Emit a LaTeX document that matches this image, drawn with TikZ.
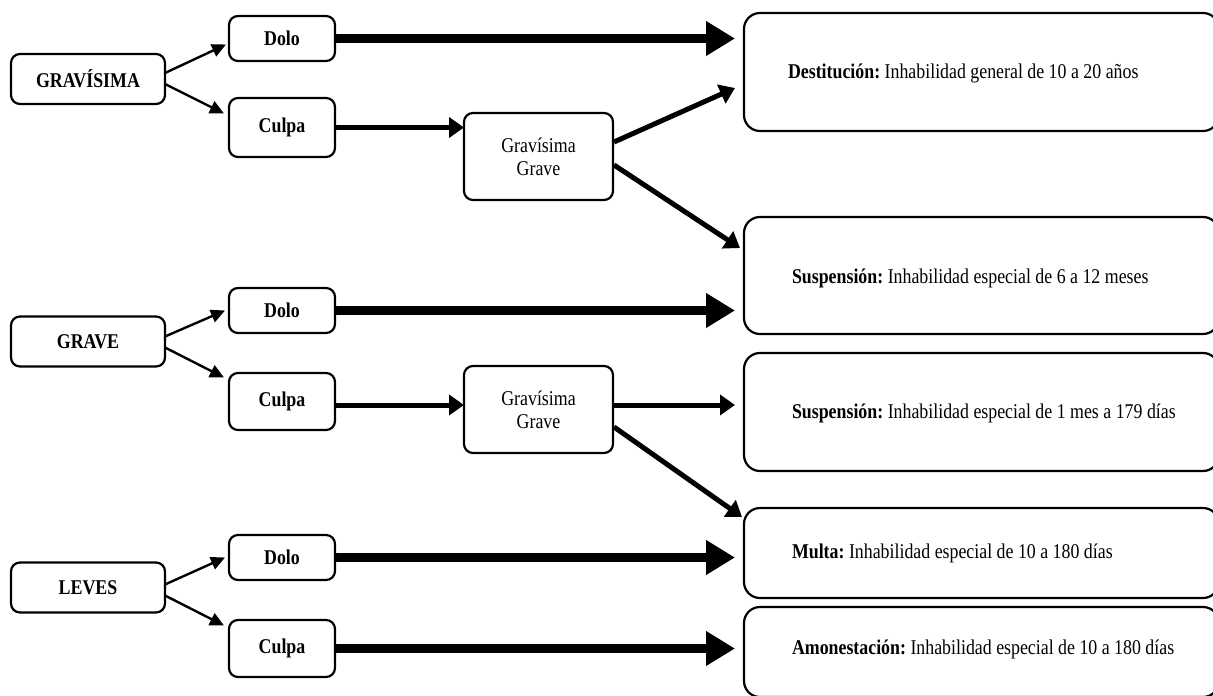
\documentclass[tikz,border=0pt]{standalone}
\usepackage{fontspec}
\setmainfont{Liberation Serif}[FakeStretch=0.85]
\usetikzlibrary{arrows.meta,calc}
\frenchspacing
\begin{document}
\begin{tikzpicture}[x=1pt,y=-1pt,
  every node/.style={inner sep=0pt, outer sep=0pt},
  box/.style={draw, line width=2.2pt, rounded corners=9pt, align=center, font=\fontsize{21}{23}\selectfont},
  catbox/.style={box, minimum width=154pt, minimum height=50pt, font=\fontsize{21}{23}\selectfont\bfseries},
  modbox/.style={box, minimum width=106pt, font=\fontsize{21}{23}\selectfont\bfseries},
  ggbox/.style={box, minimum width=149pt, minimum height=87pt},
  resbox/.style={draw, line width=2.2pt, rounded corners=16pt, minimum width=475pt},
  restext/.style={anchor=west, font=\fontsize{21}{23}\selectfont},
  thin/.style={line width=2.4pt, -{Triangle[length=14pt,width=13pt]}},
  mid/.style={line width=5pt, -{Triangle[length=15pt,width=20pt]}},
  thick/.style={line width=9pt, -{Triangle[length=29pt,width=33pt]}},
]
\useasboundingbox (0,0) rectangle (1213,696);

% categories
\node[catbox] (gravisima) at (88,79) {GRAVÍSIMA};
\node[catbox] (grave) at (88,341.5) {GRAVE};
\node[catbox] (leves) at (88,587.5) {LEVES};

% dolo / culpa
\node[modbox, minimum height=45pt] (dolo1) at (282,38.5) {Dolo};
\node[modbox, minimum height=59pt] (culpa1) at (282,127.5) {Culpa};
\node[modbox, minimum height=45pt] (dolo2) at (282,310.5) {Dolo};
\node[modbox, minimum height=57pt] (culpa2) at (282,401.5) {Culpa};
\node[modbox, minimum height=45pt] (dolo3) at (282,557.5) {Dolo};
\node[modbox, minimum height=57pt] (culpa3) at (282,648.5) {Culpa};

% gravisima / grave
\node[ggbox] (gg1) at (538.5,156.5) {Gravísima\\Grave};
\node[ggbox] (gg2) at (538.5,409.5) {Gravísima\\Grave};

% result boxes
\node[resbox, anchor=west, minimum height=118pt] (dest) at (744,72) {};
\node[resbox, anchor=west, minimum height=117pt] (susp1) at (744,275.5) {};
\node[resbox, anchor=west, minimum height=118pt] (susp2) at (744,412) {};
\node[resbox, anchor=west, minimum height=90pt] (multa) at (744,553) {};
\node[resbox, anchor=west, minimum height=90pt] (amon) at (744,652) {};

\node[restext] (t1) at ($(dest.west)+(44,1)$) {\textbf{Destitución:} Inhabilidad general de 10 a 20 años};
\node[restext] (t2) at ($(susp1.west)+(48,3)$) {\textbf{Suspensión:} Inhabilidad especial de 6 a 12 meses};
\node[restext] (t3) at ($(susp2.west)+(48,1)$) {\textbf{Suspensión:} Inhabilidad especial de 1 mes a 179 días};
\node[restext] (t4) at ($(multa.west)+(48,0)$) {\textbf{Multa:} Inhabilidad especial de 10 a 180 días};
\node[restext] (t5) at ($(amon.west)+(48,-3)$) {\textbf{Amonestación:} Inhabilidad especial de 10 a 180 días};

% thin arrows from categories
\draw[thin] ($(gravisima.east)+(0,-6)$) -- ($(dolo1.west)+(-3,6)$);
\draw[thin] ($(gravisima.east)+(0,5)$) -- ($(culpa1.west)+(-5,-14)$);
\draw[thin] ($(grave.east)+(0,-5)$) -- ($(dolo2.west)+(-4,0)$);
\draw[thin] ($(grave.east)+(0,6)$) -- ($(culpa2.west)+(-5,-24)$);
\draw[thin] ($(leves.east)+(0,-3)$) -- ($(dolo3.west)+(-4,0)$);
\draw[thin] ($(leves.east)+(0,8)$) -- ($(culpa3.west)+(-5,-23)$);

% thick arrows
\draw[thick] (dolo1.east) -- ($(dest.west |- dolo1.east)+(-9,0)$);
\draw[thick] (dolo2.east) -- ($(susp1.west |- dolo2.east)+(-9,0)$);
\draw[thick] (dolo3.east) -- ($(multa.west |- dolo3.east)+(-9,0)$);
\draw[thick] (culpa3.east) -- ($(amon.west |- culpa3.east)+(-9,0)$);

% culpa -> gg
\draw[mid] (culpa1.east) -- (gg1.west |- culpa1.east);
\draw[mid] ($(culpa2.east)+(0,3.5)$) -- ($(gg2.west |- culpa2.east)+(0,3.5)$);

% gg -> results
\draw[mid] ($(gg1.east)+(1,-14.5)$) -- ($(dest.west)+(-9,16)$);
\draw[mid] ($(gg1.east)+(1,8.5)$) -- ($(susp1.west)+(-4,-27.5)$);
\draw[mid] ($(gg2.east)+(0,-4.5)$) -- ($(susp2.west |- gg2.east)+(-9,-4.5)$);
\draw[mid] ($(gg2.east)+(1,17.5)$) -- ($(multa.west)+(-2,-36)$);
\end{tikzpicture}
\end{document}
